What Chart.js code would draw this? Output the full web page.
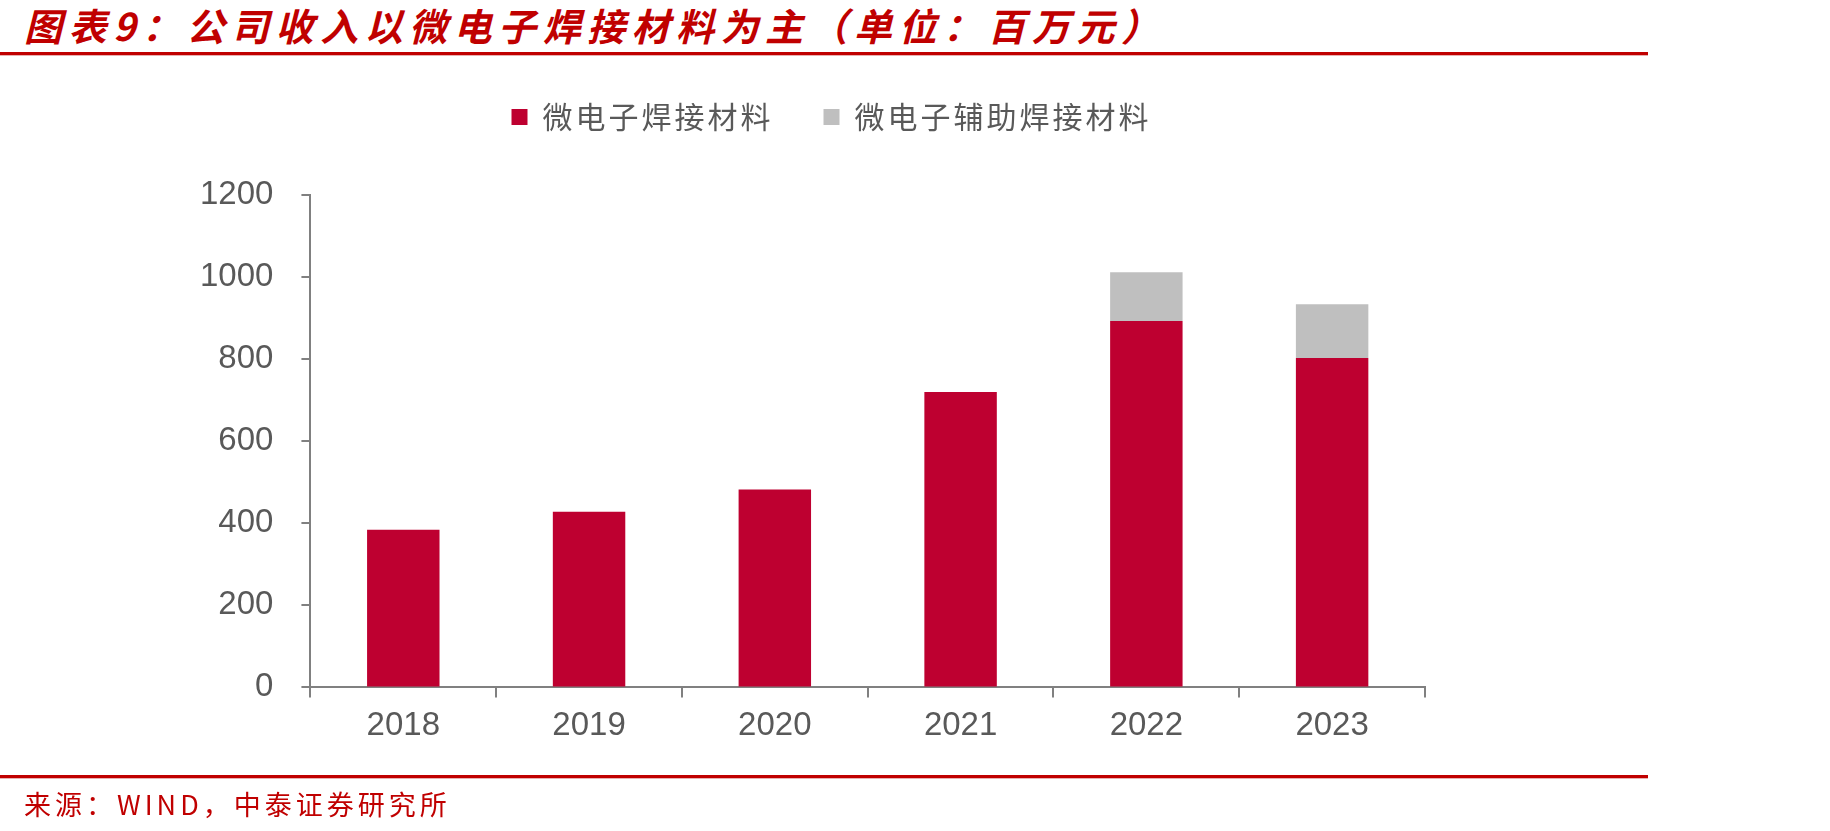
<!DOCTYPE html>
<html>
<head>
<meta charset="utf-8">
<script src="https://cdn.jsdelivr.net/npm/chart.js@4/dist/chart.umd.min.js"></script>
<style>
  html, body { margin: 0; padding: 0; background: #fff; }
  body { width: 1830px; height: 831px; position: relative; overflow: hidden; }
  #title {
    position: absolute; left: 24px; top: -3px;
    font-family: "Noto Sans CJK SC", sans-serif; font-size: 38px; font-weight: bold; font-style: italic;
    color: #C00000; letter-spacing: 6.5px; white-space: nowrap;
  }
  .rule { position: absolute; left: 0; width: 1648px; border-top: 3px solid #C00000; border-bottom: 1px solid #e8b0b0; height: 0; }
  #source {
    position: absolute; left: 24px; top: 784px;
    font-family: "Noto Sans CJK SC", sans-serif; font-size: 27px; color: #C00000; letter-spacing: 4px; white-space: nowrap;
  }
  #wrap { position: absolute; left: 0; top: 0; width: 1830px; height: 831px; }
</style>
</head>
<body>
<div id="title">图表9：公司收入以微电子焊接材料为主（单位：百万元）</div>
<div class="rule" style="top:52px"></div>
<div id="wrap"><canvas id="chart"></canvas></div>
<div class="rule" style="top:775px"></div>
<div id="source">来源：WIND，中泰证券研究所</div>

<script>
// data (百万元)
var years = ['2018', '2019', '2020', '2021', '2022', '2023'];
var mainWelding = [384, 428, 482, 720, 893, 803];      // 微电子焊接材料
var auxWelding = [null, null, null, null, 119, 131];   // 微电子辅助焊接材料
var yTicks = [0, 200, 400, 600, 800, 1000, 1200];

var axisGrey = '#808080';
var textGrey = '#595959';

// spaced-out legend text, nudged right, and a gap below the legend
var legendTweak = {
  id: 'legendTweak',
  beforeInit: function(chart) {
    var lg = chart.legend;
    var fit = lg.fit;
    var draw = lg.draw;
    lg.fit = function() {
      var c = chart.ctx;
      c.save();
      c.letterSpacing = '3px';
      fit.call(lg);
      c.restore();
      this.height += 53;
    };
    lg.draw = function() {
      var c = chart.ctx;
      c.save();
      c.translate(33, 0);
      c.letterSpacing = '3px';
      draw.call(lg);
      c.restore();
    };
  }
};

var ctx = document.getElementById('chart').getContext('2d');
var myChart = new Chart(ctx, {
  type: 'bar',
  data: {
    labels: years,
    datasets: [
      {
        label: '微电子焊接材料',
        data: mainWelding,
        backgroundColor: '#BE0030',
        borderWidth: 0,
        barPercentage: 0.39,
        categoryPercentage: 1
      },
      {
        label: '微电子辅助焊接材料',
        data: auxWelding,
        backgroundColor: '#BFBFBF',
        borderWidth: 0,
        barPercentage: 0.39,
        categoryPercentage: 1
      }
    ]
  },
  options: {
    responsive: true,
    maintainAspectRatio: false,
    animation: false,
    layout: {
      padding: { left: 172, right: 405, top: 52, bottom: 76 }
    },
    plugins: {
      tooltip: { enabled: false },
      legend: {
        position: 'top',
        labels: {
          font: { family: '"Noto Sans CJK SC", sans-serif', size: 30 },
          color: textGrey,
          boxWidth: 16,
          boxHeight: 16,
          padding: 50
        }
      }
    },
    scales: {
      x: {
        stacked: true,
        grid: { display: true, drawOnChartArea: false, offset: true, color: axisGrey, lineWidth: 2, tickLength: 10 },
        border: { display: true, color: axisGrey, width: 2 },
        ticks: {
          color: textGrey,
          padding: 9,
          font: { family: '"Liberation Sans", Arial, sans-serif', size: 33 }
        }
      },
      y: {
        stacked: true,
        min: 0,
        max: 1200,
        afterBuildTicks: function(axis) {
          axis.ticks = yTicks.map(function(v) { return { value: v }; });
        },
        grid: { display: true, drawOnChartArea: false, color: axisGrey, lineWidth: 2, tickLength: 9 },
        border: { display: true, color: axisGrey, width: 2 },
        ticks: {
          color: textGrey,
          padding: 28,
          font: { family: '"Liberation Sans", Arial, sans-serif', size: 33 },
          callback: function(v) { return String(v); }
        }
      }
    }
  },
  plugins: [legendTweak]
});
</script>
</body>
</html>
